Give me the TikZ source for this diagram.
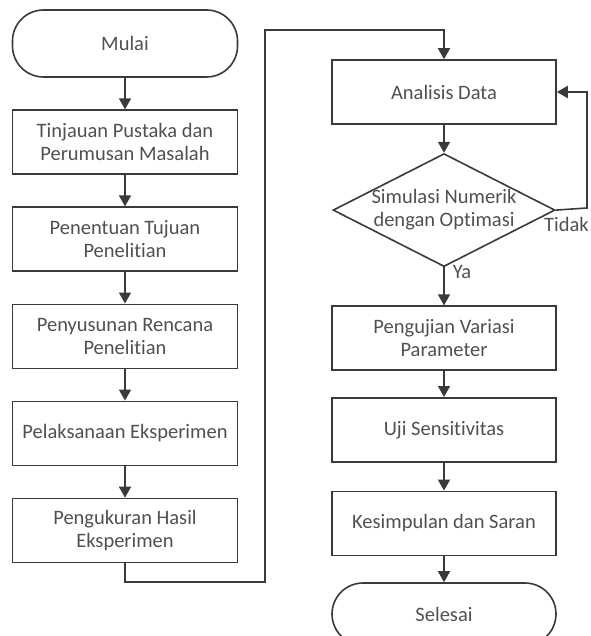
\documentclass[tikz,border=0pt]{standalone}
\usepackage{fontspec}
\setmainfont{Carlito}[Ligatures=NoCommon]
\usetikzlibrary{shapes.geometric, arrows.meta, positioning}
\definecolor{linegray}{HTML}{3A3A3A}
\definecolor{textgray}{HTML}{505050}

\begin{document}
\begin{tikzpicture}[x=1pt, y=1pt,
	block/.style={rectangle, draw=linegray, line width=1.6pt, text=textgray, minimum width=225pt, minimum height=64pt, align=center, inner sep=0pt, font=\fontsize{20.5}{23}\selectfont},
	terminal/.style={block, rounded corners=31pt, minimum height=64pt},
	decision/.style={diamond, draw=linegray, line width=1.6pt, text=textgray, aspect=1.96, inner sep=-2pt, minimum width=222pt, minimum height=113pt, align=center, font=\fontsize{20.5}{23}\selectfont},
	arrow/.style={-{Triangle[length=11pt, width=12pt]}, line width=1.6pt, draw=linegray},
	tag/.style={text=textgray, font=\fontsize{20.5}{23}\selectfont, inner sep=2pt},
	node distance=31.5pt
]
	\useasboundingbox (0,0) rectangle (590,-636);

	% Left column
	\node[terminal, minimum height=67pt] (mulai) at (125,-43.5) {Mulai};
	\node[block, below=of mulai] (tinjauan) {Tinjauan Pustaka dan\\Perumusan Masalah};
	\node[block, below=of tinjauan] (tujuan) {Penentuan Tujuan\\Penelitian};
	\node[block, below=of tujuan] (rencana) {Penyusunan Rencana\\Penelitian};
	\node[block, below=of rencana] (eksperimen) {Pelaksanaan Eksperimen};
	\node[block, below=of eksperimen] (ukur) {Pengukuran Hasil\\Eksperimen};

	% Right column
	\node[block, minimum width=224pt] (analisis) at (444,-92) {Analisis Data};
	\node[decision, below=28pt of analisis] (simulasi) {Simulasi Numerik\\dengan Optimasi};
	\node[block, minimum width=224pt, below=38pt of simulasi] (variasi) {Pengujian Variasi\\Parameter};
	\node[block, minimum width=224pt, below=26pt of variasi] (sensitif) {Uji Sensitivitas};
	\node[block, minimum width=224pt, below=28pt of sensitif] (simpulan) {Kesimpulan dan Saran};
	\node[terminal, minimum width=224pt, minimum height=62pt, below=26pt of simpulan] (selesai) {Selesai};

	% Turning points
	\coordinate (bawah) at (265,-582);
	\coordinate (atas) at (265,-30);
	\coordinate (balik) at (587,-208);

	% Arrows
	\draw[arrow] (mulai) -- (tinjauan);
	\draw[arrow] (tinjauan) -- (tujuan);
	\draw[arrow] (tujuan) -- (rencana);
	\draw[arrow] (rencana) -- (eksperimen);
	\draw[arrow] (eksperimen) -- (ukur);
	\draw[arrow] (ukur) |- (bawah) -- (atas) -| (analisis);
	\draw[arrow] (analisis) -- (simulasi);
	\draw[arrow] (simulasi) -- node[tag, right, pos=0.12, xshift=6pt]{Ya} (variasi);
	\draw[arrow] (simulasi.east) -- node[tag, below, xshift=-5pt, yshift=-5pt]{Tidak} (balik) |- (analisis.east);
	\draw[arrow] (variasi) -- (sensitif);
	\draw[arrow] (sensitif) -- (simpulan);
	\draw[arrow] (simpulan) -- (selesai);
\end{tikzpicture}
\end{document}
